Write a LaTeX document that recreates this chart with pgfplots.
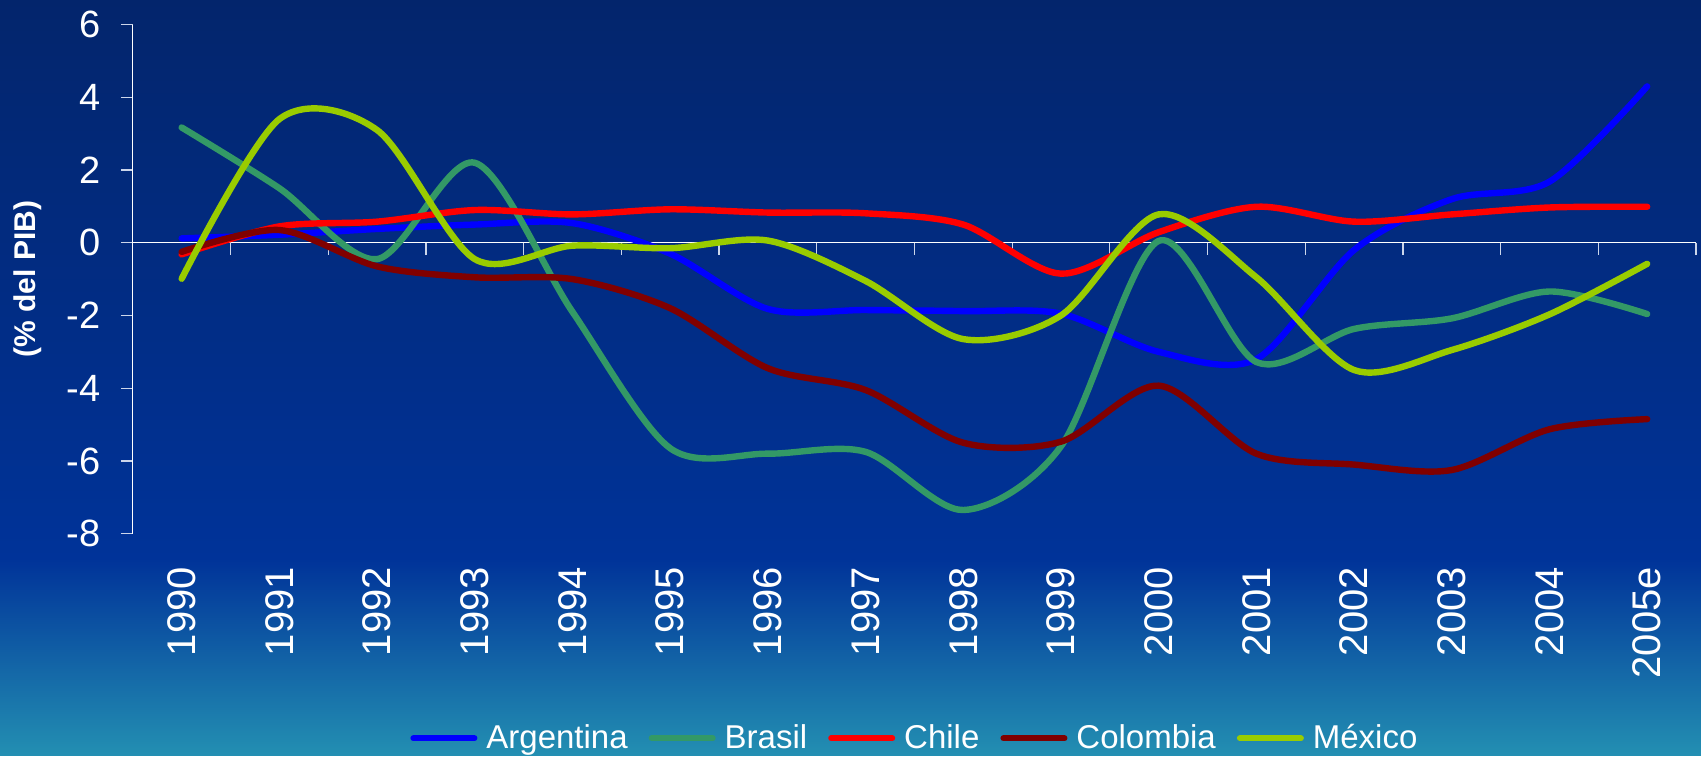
\documentclass[border=0pt]{standalone}
\usepackage{fontspec}
\setmainfont{Liberation Sans}
\usepackage{pgfplots}
\pgfplotsset{compat=1.18}
\definecolor{bgtop}{RGB}{3,37,108}
\definecolor{bgmid}{RGB}{0,51,153}
\definecolor{bgbot}{RGB}{35,143,178}
\definecolor{arg}{RGB}{0,0,255}
\definecolor{bra}{RGB}{51,153,102}
\definecolor{chi}{RGB}{255,0,0}
\definecolor{col}{RGB}{128,0,0}
\definecolor{mex}{RGB}{153,204,0}
% path maps to 25bp..75bp of the shading
\pgfdeclareverticalshading{bgshade}{100bp}{color(0bp)=(bgbot); color(25bp)=(bgbot); color(38bp)=(bgmid); color(75bp)=(bgtop); color(100bp)=(bgtop)}

\begin{document}
\begin{tikzpicture}
% background, 1 px of the reference = 0.5pt
\shade[shading=bgshade] (-66.4pt,-110.7pt) rectangle (784pt,266.8pt);
\begin{axis}[
    at={(0,0)}, anchor=south west,
    scale only axis,
    width=781.5pt, height=254.5pt,
    xmin=-0.5, xmax=15.5,
    ymin=-8, ymax=6,
    clip=false,
    axis x line=bottom, axis y line=left,
    x axis line style={draw=none},
    y axis line style={white, line width=0.6pt, -},
    tick align=outside,
    major tick length=6pt,
    xtick={0,...,15},
    xticklabels={1990,1991,1992,1993,1994,1995,1996,1997,1998,1999,2000,2001,2002,2003,2004,2005e},
    xtick style={draw=none},
    ytick={-8,-6,-4,-2,0,2,4,6},
    yticklabels={-8,-6,-4,-2,0,2,4,6},
    ytick style={white!80!bgmid, line width=0.6pt},
    xticklabel style={text=white, rotate=90, anchor=east, inner sep=0pt, font=\fontsize{20}{24}\selectfont},
    xticklabel shift=10.5pt,
    yticklabel style={text=white, anchor=east, inner sep=0pt, font=\fontsize{19}{23}\selectfont},
    yticklabel shift=10pt,
    legend columns=5,
    legend style={at={(0.5,-0.402)}, anchor=center, draw=none, fill=none,
        text=white, font=\fontsize{16.5}{20}\selectfont,
        nodes={inner sep=0.5pt},
        /tikz/every odd column/.append style={column sep=4pt},
        /tikz/every even column/.append style={column sep=10pt}},
    legend image code/.code={\draw[#1, line width=3pt, line cap=round] (0pt,0pt) -- (30.5pt,0pt);},
    every axis plot/.append style={line width=3.2pt, line cap=round, line join=round, smooth, tension=0.5},
]
\draw[white, line width=0.6pt] (axis cs:-0.5,0) -- (axis cs:15.5,0);
\pgfplotsinvokeforeach{0.5,1.5,2.5,3.5,4.5,5.5,6.5,7.5,8.5,9.5,10.5,11.5,12.5,13.5,14.5,15.5}{
    \draw[white!80!bgmid, line width=0.6pt] (axis cs:#1,0) -- ([yshift=-6pt]axis cs:#1,0);
}
\node[rotate=90, text=white, font=\bfseries\fontsize{15}{18}\selectfont]
    at ([xshift=-52.5pt]axis description cs:0,0.5) {(\% del PIB)};

% Argentina
\addplot[arg] coordinates {
(0,0.12) (1,0.22) (2,0.38) (3,0.5) (4,0.54) (5,-0.3) (6,-1.82) (7,-1.85)
(8,-1.88) (9,-1.95) (10,-3.0) (11,-3.2) (12,-0.2) (13,1.2) (14,1.68) (15,4.3)};
\addlegendentry{Argentina}
% Brasil
\addplot[bra] coordinates {
(0,3.17) (1,1.5) (2,-0.45) (3,2.2) (4,-1.9) (5,-5.65) (6,-5.8) (7,-5.75)
(8,-7.35) (9,-5.6) (10,0.05) (11,-3.28) (12,-2.37) (13,-2.08) (14,-1.34) (15,-1.96)};
\addlegendentry{Brasil}
% Chile
\addplot[chi] coordinates {
(0,-0.32) (1,0.45) (2,0.58) (3,0.9) (4,0.78) (5,0.92) (6,0.83) (7,0.81)
(8,0.5) (9,-0.85) (10,0.29) (11,0.99) (12,0.58) (13,0.78) (14,0.97) (15,0.99)};
\addlegendentry{Chile}
% Colombia
\addplot[col] coordinates {
(0,-0.25) (1,0.35) (2,-0.65) (3,-0.95) (4,-1.0) (5,-1.8) (6,-3.45) (7,-4.05)
(8,-5.5) (9,-5.47) (10,-3.93) (11,-5.8) (12,-6.1) (13,-6.25) (14,-5.13) (15,-4.85)};
\addlegendentry{Colombia}
% Mexico
\addplot[mex] coordinates {
(0,-0.99) (1,3.4) (2,3.1) (3,-0.45) (4,-0.08) (5,-0.15) (6,0.06) (7,-1.05)
(8,-2.65) (9,-2.0) (10,0.78) (11,-0.95) (12,-3.5) (13,-2.95) (14,-1.97) (15,-0.58)};
\addlegendentry{México}
\end{axis}
\end{tikzpicture}
\end{document}
